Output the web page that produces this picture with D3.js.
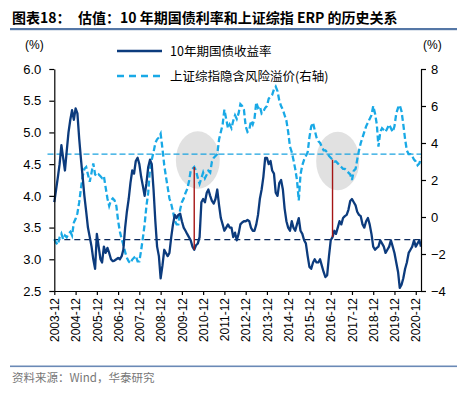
<!DOCTYPE html>
<html>
<head>
<meta charset="utf-8">
<title>ERP</title>
<script src="https://cdnjs.cloudflare.com/ajax/libs/d3/7.8.5/d3.min.js"></script>
<style>
  body { margin: 0; background: #fff; }
  svg text { font-family: "Liberation Sans", Arial, "Noto Sans CJK SC", sans-serif; }
  .cjk { font-family: "Noto Sans CJK SC", "Liberation Sans", sans-serif; }
</style>
</head>
<body>
<svg id="chart" width="468" height="395"></svg>
<script>
// monthly readings, first point = 2003-12
var startYear = 2003, startMonth = 11;

// 10年期国债收益率 (left axis, %)
var yield10y = [
  3.9, 4.1, 4.3, 4.5, 4.8, 4.6, 4.4, 4.7, 5.0, 5.2, 5.35, 5.2,
  5.38, 5.3, 4.9, 4.6, 4.3, 4.0, 3.75, 3.5, 3.35, 3.2, 3.0, 2.85,
  3.4, 3.2, 3.0, 2.95, 3.2, 3.1, 3.18, 3.1, 3.0, 2.97, 2.98, 3.0,
  3.02, 3.0, 3.05, 3.15, 3.5, 3.75, 3.95, 4.2, 4.4, 4.35, 4.55, 4.6,
  4.5, 4.3, 4.15, 4.0, 4.2, 4.45, 4.57, 4.5, 4.1, 3.6, 3.2, 3.05,
  2.7, 2.9, 3.15, 3.1, 3.05, 3.1, 3.35, 3.55, 3.7, 3.65, 3.7, 3.72,
  3.6, 3.5, 3.45, 3.4, 3.35, 3.3, 3.2, 3.15, 3.22, 3.25, 3.35, 3.9,
  3.95, 3.9, 4.05, 4.1, 4.0, 3.92, 3.88, 3.95, 4.1, 3.85, 3.65, 3.55,
  3.45, 3.5, 3.55, 3.5, 3.5, 3.35, 3.42, 3.3, 3.4, 3.55, 3.58, 3.6,
  3.6, 3.62, 3.6, 3.5, 3.45, 3.45, 3.55, 3.7, 3.95, 4.1, 4.3, 4.6,
  4.6, 4.5, 4.55, 4.4, 4.35, 4.05, 4.0, 4.2, 4.25, 4.1, 3.8, 3.6,
  3.5, 3.45, 3.6, 3.5, 3.45, 3.55, 3.65, 3.45, 3.4, 3.3, 3.25, 3.05,
  2.88, 2.85, 2.95, 3.0, 2.95, 2.95, 3.0, 2.9, 2.8, 2.72, 2.75, 3.05,
  3.3, 3.35, 3.45, 3.4, 3.5, 3.6, 3.55, 3.65, 3.68, 3.7, 3.78, 3.92,
  3.95, 3.9, 3.85, 3.75, 3.7, 3.68, 3.55, 3.5, 3.6, 3.65, 3.55, 3.4,
  3.2, 3.15, 3.18, 3.2, 3.3, 3.25, 3.2, 3.1, 3.15, 3.2, 3.3, 3.2,
  3.1, 2.95, 2.8, 2.55, 2.6, 2.7, 2.85, 2.95, 3.1, 3.15, 3.2, 3.3,
  3.2, 3.25, 3.3, 3.2
];

// 上证综指隐含风险溢价 (right axis, %)
var erp = [
  -1.2, -1.4, -1.5, -1.1, -0.9, -1.2, -1.0, -1.1, -0.9, -0.8, -1.0, -0.3,
  -0.1, 0.2, 0.8, 1.5, 2.2, 2.6, 2.7, 2.3, 1.9, 2.4, 2.9, 2.3,
  2.2, 2.3, 2.2, 2.1, 2.2, 1.6, 1.0, 0.6, 0.9, 1.0, 0.9, 0.6,
  -0.2, -0.8, -1.2, -1.5, -1.9, -2.2, -2.4, -2.5, -2.3, -2.2, -2.1, -2.4,
  -2.4, -1.8, -1.1, -0.4, 0.6, 1.3, 2.6, 3.1, 3.5, 4.0, 4.2, 4.3,
  4.5, 3.7, 2.8, 2.2, 1.6, 1.0, 0.7, 0.3, -0.2, -0.4, -0.4, 0.4,
  0.8, 1.0, 1.3, 1.5, 1.9, 2.5, 2.6, 2.7, 2.5, 2.1, 1.8, 2.1,
  2.4, 2.1, 2.3, 2.5, 2.4, 3.0, 3.2, 3.3, 3.4, 4.2, 4.6, 5.0,
  5.8, 5.3, 4.8, 5.0, 4.8, 5.2, 5.5, 5.3, 5.6, 6.1, 6.0, 5.8,
  4.9, 4.6, 4.7, 5.2, 5.0, 5.3, 6.2, 5.9, 6.0, 5.6, 5.7, 5.9,
  6.0, 6.4, 6.5, 6.6, 6.9, 7.05, 6.8, 6.3, 6.0, 5.8, 5.5, 5.2,
  4.6, 3.8, 3.5, 3.1, 2.6, 2.0, 0.9, 2.3, 2.8, 3.1, 3.3, 3.5,
  4.3, 4.9, 5.1, 4.7, 4.3, 4.1, 4.0, 3.8, 3.6, 3.6, 3.5, 3.3,
  3.2, 3.1, 3.0, 3.0, 2.9, 2.8, 2.7, 2.6, 2.6, 2.5, 2.4, 2.3,
  2.0, 2.5, 2.6, 3.1, 3.6, 4.0, 4.3, 4.6, 4.9, 5.1, 5.3, 5.5,
  6.0, 5.6, 5.0, 3.8, 4.6, 4.8, 4.7, 4.6, 4.8, 5.0, 4.8, 4.6,
  4.9, 5.6, 5.9, 6.05, 5.7, 5.0, 4.2, 3.6, 3.4, 3.4, 3.3, 3.1,
  3.0, 2.8, 2.9, 3.2
];

var tickLabels = ["2003-12","2004-12","2005-12","2006-12","2007-12","2008-12",
  "2009-12","2010-12","2011-12","2012-12","2013-12","2014-12","2015-12",
  "2016-12","2017-12","2018-12","2019-12","2020-12"];
var leftTicks = [2.5, 3.0, 3.5, 4.0, 4.5, 5.0, 5.5, 6.0];
var rightTicks = [-4, -2, 0, 2, 4, 6, 8];

var yieldMean = 3.31, erpMean = 3.4;
// gray highlight zones: [center month, erp center, half width months, half height]
var zones = [["2010-09", 3.08, 12.4, 1.55], ["2017-04", 3.03, 12.2, 1.58]];
// red connectors between the two series
var markers = ["2010-07", "2017-01"];

var parseM = d3.timeParse("%Y-%m");
var dates = yield10y.map(function(d, i) { return new Date(startYear, startMonth + i, 1); });

var svg = d3.select("#chart");
var L = 54.3, R = 421, T = 69, B = 291;

var x = d3.scaleTime().domain([dates[0], dates[dates.length - 1]]).range([L, R]);
var yL = d3.scaleLinear().domain([2.5, 6.0]).range([B, T]);
var yR = d3.scaleLinear().domain([-4, 8]).range([B, T]);

// title
svg.append("text").attr("x", 12).attr("y", 23).attr("font-size", 14).attr("font-weight", "bold")
  .attr("class", "cjk").text("图表18：");
svg.append("text").attr("x", 78).attr("y", 23).attr("font-size", 14).attr("font-weight", "bold")
  .attr("class", "cjk").text("估值：10 年期国债利率和上证综指 ERP 的历史关系");
svg.append("rect").attr("x", 10).attr("y", 28).attr("width", 447).attr("height", 2.2).attr("fill", "#5577a6");

// zones
zones.forEach(function(z) {
  var c = parseM(z[0]);
  var cx = x(c);
  var rx = x(d3.timeMonth.offset(c, 12)) - cx;
  svg.append("ellipse")
    .attr("cx", cx).attr("cy", yR(z[1]))
    .attr("rx", rx * z[2] / 12).attr("ry", yR(0) - yR(z[3]))
    .attr("fill", "#e1e1e1");
});

// mean lines
svg.append("line").attr("x1", 47.5).attr("x2", R).attr("y1", yR(erpMean)).attr("y2", yR(erpMean))
  .attr("stroke", "#1ba3e0").attr("stroke-width", 1.2).attr("stroke-dasharray", "6,3");
svg.append("line").attr("x1", L).attr("x2", R).attr("y1", yL(yieldMean)).attr("y2", yL(yieldMean))
  .attr("stroke", "#0d2b5c").attr("stroke-width", 1.2).attr("stroke-dasharray", "6,4");

// series
var lineY = d3.line().x(function(d, i) { return x(dates[i]); }).y(function(d) { return yL(d); });
var lineE = d3.line().x(function(d, i) { return x(dates[i]); }).y(function(d) { return yR(d); });

svg.append("path").attr("d", lineE(erp)).attr("fill", "none")
  .attr("stroke", "#19a9e6").attr("stroke-width", 2.3).attr("stroke-dasharray", "6,3");
svg.append("path").attr("d", lineY(yield10y)).attr("fill", "none")
  .attr("stroke", "#0c3b7d").attr("stroke-width", 2.3).attr("stroke-linejoin", "round");

// red connectors
markers.forEach(function(m) {
  var dt = parseM(m);
  var i = d3.bisector(function(d) { return d; }).left(dates, dt);
  svg.append("line").attr("x1", x(dt)).attr("x2", x(dt))
    .attr("y1", yR(erp[i])).attr("y2", yL(yield10y[i]))
    .attr("stroke", "#a51515").attr("stroke-width", 1.4);
});

// axes
var tickDates = tickLabels.map(parseM);
var gx = svg.append("g").attr("transform", "translate(0," + B + ")")
  .call(d3.axisBottom(x).tickValues(tickDates).tickSize(4).tickSizeOuter(0).tickFormat(d3.timeFormat("%Y-%m")));
gx.selectAll("text").attr("font-size", 12).attr("fill", "#000")
  .attr("transform", "rotate(-90)").attr("text-anchor", "end")
  .attr("x", -7).attr("y", 0).attr("dy", "0.35em");

var gl = svg.append("g").attr("transform", "translate(" + L + ",0)")
  .call(d3.axisLeft(yL).tickValues(leftTicks).tickSize(5).tickSizeOuter(0).tickFormat(d3.format(".1f")));
gl.selectAll("text").attr("font-size", 13).attr("fill", "#000").attr("x", -13);

var gr = svg.append("g").attr("transform", "translate(" + R + ",0)")
  .call(d3.axisRight(yR).tickValues(rightTicks).tickSize(5).tickSizeOuter(0).tickFormat(d3.format("d")));
gr.selectAll("text").attr("font-size", 13).attr("fill", "#000").attr("x", 10);

svg.selectAll(".domain, .tick line").attr("stroke", "#000").attr("stroke-width", 1.2);

svg.append("text").attr("x", 25).attr("y", 49).attr("font-size", 12).text("(%)");
svg.append("text").attr("x", 423).attr("y", 49).attr("font-size", 12).text("(%)");

// legend
svg.append("line").attr("x1", 117).attr("x2", 162).attr("y1", 51).attr("y2", 51)
  .attr("stroke", "#0c3b7d").attr("stroke-width", 2.5);
svg.append("text").attr("x", 170).attr("y", 55.5).attr("font-size", 12.5).attr("class", "cjk")
  .text("10年期国债收益率");
svg.append("line").attr("x1", 117).attr("x2", 162).attr("y1", 76).attr("y2", 76)
  .attr("stroke", "#19a9e6").attr("stroke-width", 2.5).attr("stroke-dasharray", "7,5");
svg.append("text").attr("x", 170).attr("y", 80.5).attr("font-size", 12.5).attr("class", "cjk")
  .text("上证综指隐含风险溢价(右轴)");

// footer
svg.append("rect").attr("x", 10).attr("y", 365.5).attr("width", 447).attr("height", 1.6).attr("fill", "#6a89b6");
svg.append("text").attr("x", 12).attr("y", 382).attr("font-size", 11.5).attr("fill", "#777").attr("class", "cjk")
  .text("资料来源：Wind，华泰研究");
</script>
</body>
</html>
